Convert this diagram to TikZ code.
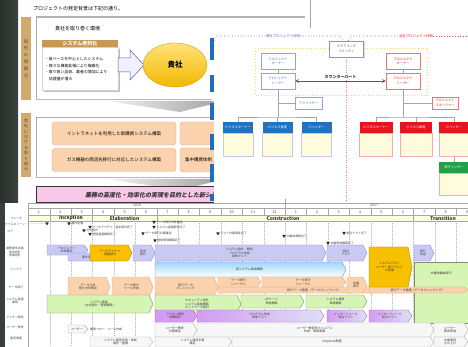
\documentclass[tikz,border=0pt]{standalone}
\usepackage{fontspec}
\setmainfont{Noto Sans CJK JP}
\newfontfamily\jpslant{Noto Sans CJK JP}[FakeSlant=0.22]
\usetikzlibrary{positioning, shapes.geometric, arrows, shadows}

\definecolor{stripdark}{HTML}{27302B}
\definecolor{tanbar}{HTML}{D3AA6E}
\definecolor{tanhead}{HTML}{C79A52}
\definecolor{peach}{HTML}{FAD2AE}
\definecolor{peachline}{HTML}{ECAA78}
\definecolor{gold}{HTML}{F2B800}
\definecolor{goldlight}{HTML}{FFE27A}
\definecolor{pinkband}{HTML}{F9C8E8}
\definecolor{barblue}{HTML}{1E6EC0}
\definecolor{orgblue}{HTML}{2272C3}
\definecolor{orgred}{HTML}{E8141C}
\definecolor{orggreen}{HTML}{22A046}
\definecolor{orgnavy}{HTML}{5468B0}
\definecolor{orggray}{HTML}{505050}
\definecolor{bodyyel}{HTML}{FFFBDD}
\definecolor{lav}{HTML}{C9C9F4}
\definecolor{lavline}{HTML}{8A8AD0}
\definecolor{ggoldfill}{HTML}{F8C000}
\definecolor{cyanbar}{HTML}{9ED6F8}
\definecolor{greenbar}{HTML}{D6F4B4}
\definecolor{purplebar}{HTML}{D49CF0}

% gantt bar: name, x1, y1, x2, y2, style, text
\newcommand{\ganttbar}[7]{%
  \draw[#6] (#2,#3) -- ({#4-4},#3) -- (#4,{(#3+#5)/2}) -- ({#4-4},#5) -- (#2,#5) -- cycle;
  \node[bartext] (#1) at ({(#2+#4)/2-1},{(#3+#5)/2}) {#7};}
% milestone: name, x, y, text
\newcommand{\milestone}[4]{%
  \node[mstri] (#1) at (#2,#3) {};
  \node[mstext, right=1pt of #1] (#1t) {#4};}

\begin{document}
\begin{tikzpicture}[x=1pt, y=-1pt,
  txt/.style={inner sep=0pt, font=\fontsize{5}{6}\selectfont},
  sidebar/.style={fill=tanbar, minimum width=10pt, inner sep=0pt, text=black!70, align=center},
  agedhead/.style={fill=tanhead, text=white, minimum width=76pt, minimum height=7pt, inner sep=0pt, font=\bfseries\fontsize{5}{6}\selectfont},
  issuebox/.style={draw=gray!35, fill=white, minimum width=76pt, minimum height=43pt, text width=70pt, align=left, inner sep=2pt, font=\fontsize{3.9}{6.6}\selectfont, drop shadow={fill=blue!35!gray, opacity=.4, shadow xshift=1.5pt, shadow yshift=-1.5pt}},
  task/.style={draw=peachline, fill=peach, rounded corners=3pt, minimum width=124pt, minimum height=23pt, inner sep=0pt, font=\fontsize{4.5}{5}\selectfont},
  wedge/.style={left color=gray!10, right color=gray!75, draw=none},
  orgbox/.style={draw=#1!60, fill=white, text=#1, minimum width=34pt, minimum height=16pt, inner sep=0pt, align=center, font=\fontsize{3.2}{4.5}\selectfont, drop shadow={opacity=.25, shadow xshift=1pt, shadow yshift=-1pt}},
  unithead/.style={fill=#1, text=white, minimum width=30pt, minimum height=11pt, inner sep=0pt, font=\fontsize{3.2}{4}\selectfont},
  unitbody/.style={draw=#1, fill=bodyyel, minimum width=30pt, minimum height=23pt, inner sep=0pt},
  orgline/.style={draw=gray!70, line width=0.5pt},
  bluedot/.style={draw=orgnavy, dotted, line width=0.7pt},
  reddot/.style={draw=orgred!80, dotted, line width=0.7pt},
  gridline/.style={draw=gray!70, line width=0.4pt},
  monthline/.style={draw=gray!60, dash pattern=on 1pt off 1pt, line width=0.4pt},
  bartext/.style={inner sep=0pt, align=center, font=\fontsize{3}{3.6}\selectfont, text=black!75},
  rowlabel/.style={inner sep=0pt, align=center, font=\fontsize{2.9}{3.4}\selectfont, text=black!70},
  mstri/.style={regular polygon, regular polygon sides=3, shape border rotate=180, fill=black!85, minimum size=4pt, inner sep=0pt},
  mstext/.style={inner sep=0pt, font=\fontsize{2.9}{3.4}\selectfont, text=black!75},
  glav/.style={fill=lav, draw=lavline, line width=0.4pt},
  ggold/.style={fill=ggoldfill, draw=ggoldfill!70!black, line width=0.4pt},
  gcyan/.style={top color=cyanbar, bottom color=white, draw=cyanbar!70!black, line width=0.4pt},
  gpeach/.style={fill=peach, draw=peachline, line width=0.4pt},
  ggreen/.style={fill=greenbar, draw=greenbar!60!black, line width=0.4pt},
  gpurple/.style={fill=purplebar, draw=purplebar!70!black, line width=0.4pt},
  gpurple2/.style={left color=purplebar, right color=lav!60, draw=purplebar!70!black, line width=0.4pt},
  ggray/.style={fill=gray!6, draw=gray!60, line width=0.4pt}]
\useasboundingbox (0,0) rectangle (468,347);

% photo strip at the left
\shade[left color=stripdark, right color=stripdark!75!gray] (0,0) rectangle (18,203);
\fill[stripdark!80!gray] (0,203) rectangle (5,347);

%% page 1: background of the project
\node[txt, anchor=west] (title) at (33,9) {プロジェクトの発足背景は下記の通り。};
\draw[gray!65, line width=0.6pt] (36,17) -- (36,99);
\draw[gray!55, line width=1.6pt] (36,99.5) -- (212,99.5);
\node[sidebar, minimum height=83pt, font=\fontsize{4.3}{6.8}\selectfont] (side1) at (26,58.5) {現\\在\\の\\問\\題\\点};
\node[txt, anchor=west] (env) at (55,29) {貴社を取り巻く環境};
\node[agedhead] (aged) at (80,43.5) {システム老朽化};
\node[issuebox, below=0pt of aged] (issues) {・紙ベースを中心としたシステム\\・様々な機能拡張により複雑化\\・取り扱い品目、業者の増加により\\\hspace*{4pt}処理量が増大};
\draw[draw=blue!30!gray, fill=blue!6, line width=0.5pt] (118,58) -- (130,58) -- (130,50) -- (144,65) -- (130,80) -- (130,72) -- (118,72) -- cycle;
\node[ellipse, top color=goldlight, bottom color=gold, draw=gold!80!black, line width=0.3pt, minimum width=64pt, minimum height=44pt, font=\bfseries\fontsize{7.5}{8}\selectfont] (client) at (175,65) {貴社};
\shade[wedge] (107,101) -- (225,101) -- (180,112) -- cycle;

\node[sidebar, minimum height=64pt, font=\fontsize{4}{5.4}\selectfont] (side2) at (26,145) {貴\\社\\に\\お\\け\\る\\取\\り\\組\\み};
\draw[gray!65, line width=0.6pt] (212,117) -- (36,117) -- (36,177);
\draw[gray!55, line width=1.6pt] (36,177.5) -- (212,177.5);
\node[task] (intra) at (114,133.5) {イントラネットを利用した新購買システム構築};
\node[task] (gas) at (114,160) {ガス機器の商流先移行に対応したシステム構築};
\draw[draw=peachline, fill=peach, rounded corners=3pt] (180,122) rectangle (228,145);
\draw[draw=peachline, fill=peach, rounded corners=3pt] (180,148) rectangle (228,172);
\node[txt, anchor=west, font=\fontsize{4.5}{5}\selectfont] (central) at (185,160) {集中購買体制};
\shade[wedge] (107,179) -- (225,179) -- (180,190) -- cycle;
\draw[draw=black!80, fill=pinkband, line width=1pt] (36,187) rectangle (230,203);
\node[txt, anchor=west, text=black!80, font=\jpslant\bfseries\fontsize{6}{7}\selectfont] (goal) at (85,195.5) {業務の高度化・効率化の実現を目的とした新シス};

%% page 2: project organisation
\fill[white] (214,19) rectangle (468,203);
\draw[draw=yellow!60!orange!60, dotted, line width=0.8pt] (255,48) rectangle (427,95);
\node[orgbox=orggray] (steer) at (346.5,49) {ステアリング\\コミッティ};
\node[orgbox=orgnavy] (ownL) at (278,61) {プロジェクト\\オーナー};
\node[orgbox=orgnavy] (leadL) at (278,81) {プロジェクト\\リーダー};
\node[orgbox=orgred] (ownR) at (403,61) {プロジェクト\\オーナー};
\node[orgbox=orgred] (leadR) at (403,81) {プロジェクト\\リーダー};
\node[txt, text=orgnavy, font=\fontsize{3.4}{4}\selectfont] (blueLbl) at (283,36) {貴社プロジェクト体制};
\node[txt, text=orgred, font=\fontsize{3.4}{4}\selectfont] (redLbl) at (416,36) {当社プロジェクト体制};
\draw[bluedot] (214,41) -- (216,36) -- (blueLbl.west);
\draw[bluedot] (blueLbl.east) -- (340,36) -- ([xshift=-3pt]steer.north);
\draw[reddot] ([xshift=2pt]steer.north) -- (351,36) -- (redLbl.west);
\draw[reddot] (redLbl.east) -- (468,36);
\draw[draw=orgred!55, dash pattern=on 1.2pt off 1.3pt, line width=1.3pt] (steer) -- (346.5,201);
\draw[<->, >=stealth, draw=black!65, line width=0.6pt] (leadL) -- node[above=1.5pt, inner sep=0pt, text=black!80, font=\bfseries\fontsize{4}{5}\selectfont] (counter) {カウンターパート} (leadR);

\node[orgbox=orgnavy, minimum width=27pt, minimum height=12pt] (advL) at (308.5,103) {アドバイザー};
\node[orgbox=orgred, minimum width=26pt, minimum height=12pt] (advR) at (445,103) {プロジェクト\\マネージャー};
\node[unithead=orgblue] (uL1) at (238,127.5) {ビジネスオーナー};
\node[unithead=orgblue] (uL2) at (277.5,127.5) {ビジネス推進};
\node[unithead=orgblue] (uL3) at (316.5,127.5) {ITベンダー};
\node[unitbody=orgnavy!35, below=0pt of uL1] (uL1b) {};
\node[unitbody=orgnavy!35, below=0pt of uL2] (uL2b) {};
\node[unitbody=orgnavy!35, below=0pt of uL3] (uL3b) {};
\node[unithead=orgred, minimum width=33pt] (uR1) at (376,127.5) {ビジネスオーナー};
\node[unithead=orgred, minimum width=32pt] (uR2) at (416,127.5) {ビジネス推進};
\node[unithead=orgred] (uR3) at (454,127.5) {ITベンダー};
\node[unitbody=orgred!35, minimum width=33pt, below=0pt of uR1] (uR1b) {};
\node[unitbody=orgred!35, minimum width=32pt, below=0pt of uR2] (uR2b) {};
\node[unitbody=orgred!35, below=0pt of uR3] (uR3b) {};
\node[unithead=orggreen] (maint) at (454,167.5) {保守ベンダー};
\node[unitbody=orgred!35, minimum height=22pt, below=0pt of maint] (maintb) {};

\coordinate (jL) at (278,117);
\coordinate (jR) at (403,117);
\draw[orgline] (ownL) -- (leadL) -- (jL);
\draw[orgline] (uL1) |- (jL) -| (uL3);
\draw[orgline] (uL2) -- (uL2 |- jL);
\draw[orgline] (advL) -- (advL -| jL);
\draw[orgline] (ownR) -- (leadR) -- (jR);
\draw[orgline] (uR1) |- (jR) -| (uR3);
\draw[orgline] (uR2) -- (uR2 |- jR);
\draw[orgline] (advR) -- (advR -| jR);
\draw[orgline] (uR3b) -- (maint);

% lines and marks over both pages
\draw[gray!60, line width=1.2pt] (36,17) -- (305,17);
\draw[gray!70, line width=0.5pt] (310,0) -- (310,28);
\foreach \a/\b in {38/60, 75/92, 103/120, 134/150, 164/182, 194/201}
  \fill[barblue] (210,\a) rectangle (214,\b);

%% page 3: master schedule
\fill[white] (5,203) rectangle (468,347);
\fill[yellow!12] (28,215) rectangle (468,221);
\draw[gridline] (28,203) -- (468,203) (28,208) -- (468,208) (28,215) -- (468,215) (28,221) -- (468,221);
\draw[gridline] (28,203) -- (28,347);
\foreach \i in {1,...,20} {
  \draw[gridline] ({28.3+\i*21.4},208) -- ({28.3+\i*21.4},215);
  \draw[monthline] ({28.3+\i*21.4},221) -- ({28.3+\i*21.4},347);
}
\foreach \i in {1,3,6,18}
  \draw[gridline] ({28.3+\i*21.4},215) -- ({28.3+\i*21.4},221);
\draw[gridline] (285.1,199) -- (285.1,208);
\foreach \m [count=\i from 0] in {1,2,3,4,5,6,7,8,9,10,11,12,1,2,3,4,5,6,7,8,9}
  \node[rowlabel, font=\fontsize{3.8}{4}\selectfont] (mon\i) at ({39+\i*21.4},211.7) {\m};
\node[rowlabel, font=\fontsize{3.6}{4}\selectfont] (y2016) at (137,205.6) {2016};
\node[rowlabel, font=\fontsize{3.6}{4}\selectfont] (y2017) at (374,205.6) {2017};
\node[rowlabel, text=black!80, font=\bfseries\fontsize{5}{5}\selectfont] (phI) at (71,218.2) {Inception};
\node[rowlabel, text=black!80, font=\bfseries\fontsize{5}{5}\selectfont] (phE) at (124.6,218.2) {Elaboration};
\node[rowlabel, text=black!80, font=\bfseries\fontsize{5}{5}\selectfont] (phC) at (283,218.2) {Construction};
\node[rowlabel, text=black!80, font=\bfseries\fontsize{5}{5}\selectfont] (phT) at (443,218.2) {Transition};

% row labels
\node[rowlabel] (lPhase) at (16,218) {フェーズ};
\node[rowlabel] (lMile) at (15,224) {マイルストーン};
\node[rowlabel] (lCore) at (10,232) {コア};
\node[rowlabel] (lReq) at (15,252) {業務要件定義\\基本設計\\詳細設計};
\node[rowlabel] (lEnv) at (16,269) {インフラ};
\node[rowlabel] (lMig) at (16,287) {データ移行};
\node[rowlabel] (lBase) at (15,301) {システム基盤\\構築};
\node[rowlabel] (lAdd) at (15,317) {アドオン開発};
\node[rowlabel] (lEdu) at (15,327) {ユーザー教育};
\node[rowlabel] (lOps) at (16,338) {運用準備};

% milestones
\node[mstri] (m0) at (47,223.5) {};
\draw[gray!70, dash pattern=on 1pt off 1pt] (lMile.east) -- (m0);
\milestone{m1}{69}{223.5}{要件定義}
\milestone{m2}{90}{227}{アーキテクチャ・基本設計完了}
\milestone{m3}{84}{230.5}{方式設計}
\milestone{m4}{90}{234}{開発基盤構築完了}
\milestone{m5}{154}{222}{データ移行方針確定}
\milestone{m6}{154}{227}{システム基盤設計完了}
\milestone{m7}{143}{233.5}{データ移行計画確定}
\milestone{m8}{155}{240.5}{開発環境構築完了}
\milestone{m9}{218}{233.5}{テスト計画策定完了}
\milestone{m10}{284}{236}{中間成果物完了}
\milestone{m11}{344}{233}{統合テスト完了}
\milestone{m12}{328}{243}{本番環境構築完了}

% schedule bars
\ganttbar{bPlan}{47}{245}{88}{255}{glav}{プロジェクト\\計画策定}
\ganttbar{bReq}{68}{253}{110}{261}{glav}{要件定義}
\ganttbar{bArch}{90}{245}{132}{261}{ggold}{アーキテクチャ\\基盤設計}
\ganttbar{bBasic}{133}{245}{155}{261}{glav}{基本\\設計}
\ganttbar{bDev}{155}{245}{326}{261}{glav}{システム設計・開発\\プログラム作成\\単体テスト}
\ganttbar{bIT}{327}{245}{367}{261}{glav}{結合\\テスト}
\ganttbar{bRel}{414}{245}{434}{261}{glav}{移行\\判定}
\ganttbar{bEnv}{155}{262}{346}{277}{gcyan}{新システム環境構築}
\draw[ggreen] (414,262) rectangle (468,323);
\node[bartext] (bOps) at (441,273) {本番稼働後保守};
\ganttbar{bMig1}{68}{277}{110}{297}{gpeach}{データ分析\\移行方針策定}
\ganttbar{bMig2}{112}{277}{153}{297}{gpeach}{データ移行\\ツール作成}
\ganttbar{bMig7}{218}{287}{412}{293}{gpeach}{移行データ整備（データクレンジング）}
\ganttbar{bMig8}{369}{287}{468}{293}{gpeach}{移行データ整備（データクレンジング）}
\ganttbar{bMig3}{155}{277}{218}{297}{gpeach}{移行データ\\クレンジング}
\ganttbar{bMig4}{218}{277}{261}{287}{gpeach}{データ移行\\リハーサル}
\ganttbar{bMig5}{262}{277}{346}{287}{gpeach}{データ移行\\リハーサル}
\ganttbar{bMig6}{347}{277}{367}{293}{gpeach}{本番\\移行}
\ganttbar{bST}{369}{247}{412}{287}{ggold}{システムテスト\\ユーザー受入テスト\\の実施}
\ganttbar{bInfra}{47}{295}{153}{313}{ggreen}{システム基盤\\（方式設計・環境構築）}
\ganttbar{bSec}{155}{295}{241}{313}{ggreen}{セキュリティ設計\\システム基盤構築\\ネットワーク設計}
\ganttbar{bApp}{241}{295}{304}{308}{ggreen}{APサーバ\\環境構築}
\ganttbar{bLink}{306}{295}{367}{308}{ggreen}{システム連携\\環境構築}
\ganttbar{bAdd}{155}{310}{197}{322}{gpurple}{アドオン開発\\詳細設計}
\ganttbar{bPrg}{197}{310}{324}{322}{gpurple2}{プログラム作成\\単体テスト}
\ganttbar{bIT2}{327}{310}{367}{322}{gpurple2}{インターフェース\\結合テスト}
\ganttbar{bIT3}{369}{310}{412}{322}{gpurple2}{インターフェース\\総合テスト}
\ganttbar{bUsr}{68}{325}{88}{333}{ggray}{ユーザー}
\node[mstext, anchor=west] (bUsrT) at (90,329) {業務フロー・ルール作成};
\ganttbar{bEdu1}{155}{323}{197}{337}{ggray}{ユーザー教育\\計画策定}
\ganttbar{bEdu2}{197}{323}{434}{337}{ggray}{ユーザー教育用マニュアル\\作成・環境準備}
\ganttbar{bEdu3}{434}{323}{468}{337}{ggray}{ユーザー\\教育実施}
\ganttbar{bOpm}{90}{337}{153}{347}{ggray}{システム運用手順・体制\\検討・整備}
\ganttbar{bOpm2}{155}{337}{232}{347}{ggray}{システム運用手順\\確定}
\ganttbar{bHelp}{232}{337}{434}{347}{ggray}{HelpDesk準備}
\ganttbar{bGo}{434}{337}{468}{347}{ggray}{本番運用\\立ち上げ}
\end{tikzpicture}
\end{document}
